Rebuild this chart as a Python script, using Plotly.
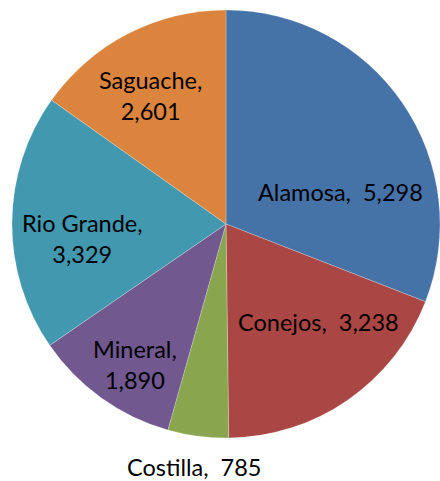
import plotly.graph_objects as go

counties = ["Alamosa", "Conejos", "Costilla", "Mineral", "Rio Grande", "Saguache"]
values = [5298, 3238, 785, 1890, 3329, 2601]
colors = ["#4572A7", "#AA4643", "#89A54E", "#71588F", "#4198AF", "#DB843D"]

# label text built from the data; (x px, y px from top) positions are styling
label_text = [
    f"{counties[0]},  {values[0]:,}",
    f"{counties[1]},  {values[1]:,}",
    f"{counties[2]},  {values[2]:,}",
    f"{counties[3]},<br>{values[3]:,}",
    f"{counties[4]},<br>{values[4]:,}",
    f"{counties[5]},<br>{values[5]:,}",
]
label_pos = [(340, 192), (318, 322), (194, 467), (135, 364), (82, 238), (150, 95)]

W, H = 440, 481
fig = go.Figure(go.Pie(
    labels=counties, values=values, sort=False, direction="clockwise", rotation=0,
    marker=dict(colors=colors, line=dict(color="rgba(255,255,255,0.4)", width=0.6)),
    textinfo="none", hoverinfo="label+value", showlegend=False,
    domain=dict(x=[12 / W, 1.0], y=[(257 - 216) / H, (257 + 216) / H]),
))

for t, (px, py) in zip(label_text, label_pos):
    fig.add_annotation(x=px / W, y=1 - py / H, xref="paper", yref="paper", text=t,
                       showarrow=False, xanchor="center", yanchor="middle",
                       font=dict(family="Lato, sans-serif", size=23.5, color="#000000"))

fig.update_layout(width=W, height=H, margin=dict(l=0, r=0, t=0, b=0),
                  paper_bgcolor="white", plot_bgcolor="white")
fig.write_html("out.html", config={"displayModeBar": False},
               post_script="document.body.style.margin='0px';")
